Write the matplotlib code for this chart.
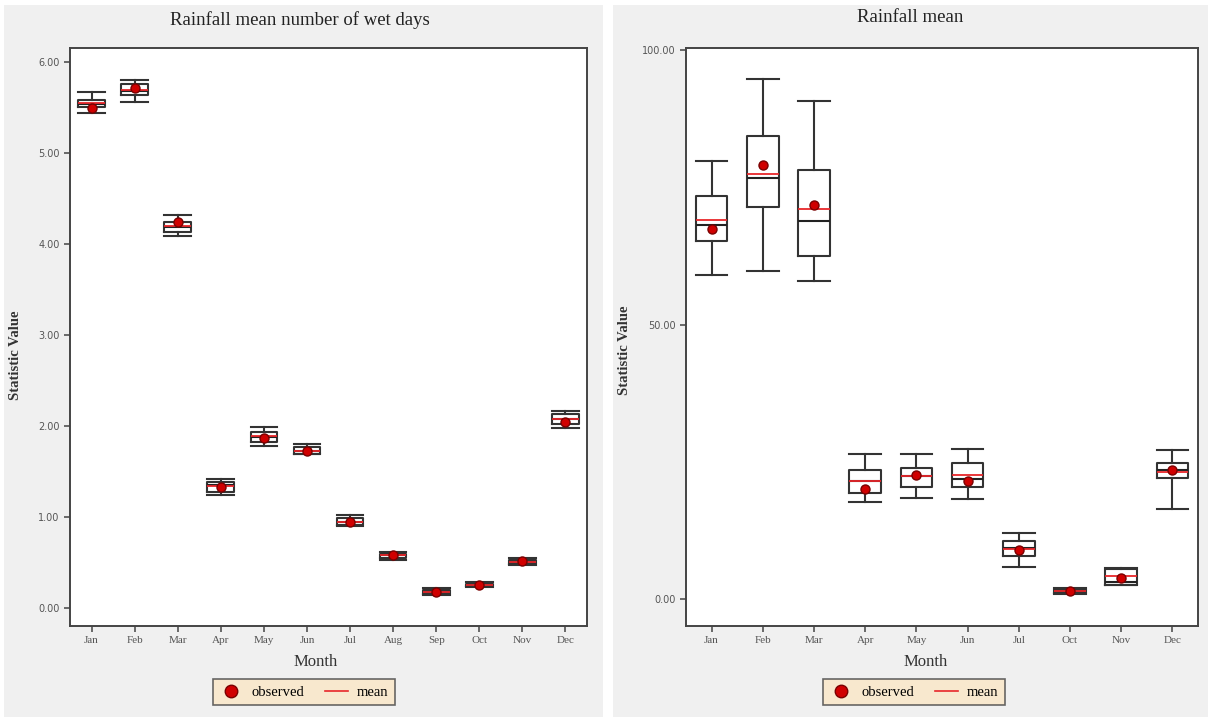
import matplotlib
matplotlib.use("Agg")
import matplotlib.pyplot as plt
from matplotlib.patches import Rectangle
from matplotlib.lines import Line2D

plt.rcParams['font.family'] = ['Liberation Serif', 'DejaVu Serif']

# panel 1: mean number of wet days
meses_l = ["Jan","Feb","Mar","Apr","May","Jun","Jul","Aug","Sep","Oct","Nov","Dec"]
whishi_l = [5.67, 5.80, 4.32, 1.42, 1.99, 1.80, 1.02, 0.62, 0.22, 0.29, 0.55, 2.17]
q3_l     = [5.59, 5.76, 4.25, 1.39, 1.94, 1.77, 0.99, 0.60, 0.20, 0.27, 0.53, 2.13]
med_l    = [5.54, 5.68, 4.19, 1.35, 1.88, 1.73, 0.95, 0.58, 0.18, 0.26, 0.51, 2.08]
q1_l     = [5.51, 5.64, 4.14, 1.28, 1.83, 1.70, 0.91, 0.55, 0.16, 0.24, 0.49, 2.03]
whislo_l = [5.44, 5.56, 4.09, 1.24, 1.78, 1.69, 0.90, 0.53, 0.15, 0.23, 0.48, 1.98]
media_l  = [5.55, 5.70, 4.20, 1.34, 1.89, 1.73, 0.95, 0.58, 0.18, 0.26, 0.51, 2.08]
obs_l    = [5.50, 5.72, 4.24, 1.33, 1.87, 1.73, 0.95, 0.58, 0.18, 0.26, 0.52, 2.05]

# panel 2: rainfall mean
meses_r = ["Jan","Feb","Mar","Apr","May","Jun","Jul","Oct","Nov","Dec"]
whishi_r = [79.9, 94.7, 90.8, 26.4, 26.4, 27.4, 12.1, 2.0, 5.6, 27.2]
q3_r     = [73.5, 84.4, 78.1, 23.5, 23.8, 24.8, 10.6, 1.8, 5.4, 24.8]
med_r    = [68.2, 76.8, 68.9, 21.5, 22.4, 21.8, 9.4, 1.5, 3.2, 23.6]
q1_r     = [65.3, 71.5, 62.5, 19.4, 20.4, 20.4, 7.8, 1.2, 2.6, 22.0]
whislo_r = [59.0, 59.8, 57.9, 17.7, 18.4, 18.2, 5.8, 1.0, 2.5, 16.5]
media_r  = [69.1, 77.4, 71.0, 21.6, 22.4, 22.6, 9.2, 1.5, 4.2, 23.1]
obs_r    = [67.5, 79.0, 71.8, 20.0, 22.7, 21.5, 9.0, 1.45, 3.8, 23.5]

W, H = 1208, 718
fig = plt.figure(figsize=(W/100, H/100), dpi=100, facecolor="white")

# gray panels behind each chart
for x0, x1 in [(4, 603), (613, 1208)]:
    fig.patches.append(Rectangle((x0/W, 1-717/H), (x1-x0)/W, (717-5)/H,
                                 transform=fig.transFigure, facecolor="#f0f0f0",
                                 edgecolor="none", zorder=-10))

def caja(ax, meses, whishi, q3, med, q1, whislo, media, obs, ylim, yticks):
    stats = []
    for i in range(len(meses)):
        stats.append(dict(med=med[i], q1=q1[i], q3=q3[i], whislo=whislo[i],
                          whishi=whishi[i], fliers=[], label=meses[i]))
    pos = list(range(len(meses)))
    w = 0.62
    ax.bxp(stats, positions=pos, widths=w, showfliers=False, capwidths=w,
           boxprops=dict(color="#333333", linewidth=1.5),
           whiskerprops=dict(color="#333333", linewidth=1.5),
           capprops=dict(color="#333333", linewidth=1.5),
           medianprops=dict(color="#222222", linewidth=1.5))
    ax.hlines(media, [p - w/2 for p in pos], [p + w/2 for p in pos],
              color="#e8262a", linewidth=1.3, zorder=3)
    ax.plot(pos, obs, "o", color="#d00000", markeredgecolor="#7a0000",
            markersize=6.5, zorder=4)
    ax.set_xlim(-0.5, len(meses) - 0.5)
    ax.set_ylim(*ylim)
    ax.set_yticks(yticks)
    ax.set_yticklabels([f"{t:.2f}" for t in yticks], family="DejaVu Sans", fontsize=7)
    ax.set_xticks(pos)
    ax.set_xticklabels(meses, fontsize=8)
    ax.tick_params(labelcolor="#555555", color="#444444", length=4, width=1.1)
    for s in ax.spines.values():
        s.set_color("#444444")
        s.set_linewidth(1.4)
    ax.set_facecolor("white")

ax1 = fig.add_axes([70/W, 1-626/H, (587-70)/W, (626-48)/H])
caja(ax1, meses_l, whishi_l, q3_l, med_l, q1_l, whislo_l, media_l, obs_l,
     (-0.195, 6.157), [0, 1, 2, 3, 4, 5, 6])

ax2 = fig.add_axes([686/W, 1-626/H, (1198-686)/W, (626-48)/H])
caja(ax2, meses_r, whishi_r, q3_r, med_r, q1_r, whislo_r, media_r, obs_r,
     (-4.9, 100.4), [0, 50, 100])

fig.text(300/W, 1-20/H, "Rainfall mean number of wet days", ha="center", va="center",
         fontsize=13.5, color="#222222")
fig.text(910/W, 1-18/H, "Rainfall mean", ha="center", va="center",
         fontsize=13.5, color="#222222")
fig.text(316/W, 1-662/H, "Month", ha="center", va="center", fontsize=12, color="#333333")
fig.text(926/W, 1-662/H, "Month", ha="center", va="center", fontsize=12, color="#333333")
fig.text(16/W, 1-355/H, "Statistic Value", rotation=90, ha="center", va="center",
         fontsize=10.5, fontweight="bold", color="#333333")
fig.text(625/W, 1-350/H, "Statistic Value", rotation=90, ha="center", va="center",
         fontsize=10.5, fontweight="bold", color="#333333")

manijas = [Line2D([], [], marker="o", linestyle="none", color="#d00000",
                  markeredgecolor="#7a0000", markersize=9),
           Line2D([], [], color="#e8262a", linewidth=1.2)]
for cx in [304, 914]:
    leg = fig.legend(manijas, ["observed", "mean"], loc="center",
                     bbox_to_anchor=(cx/W, 1-692/H), ncol=2, fontsize=10.5,
                     frameon=True, fancybox=False, handlelength=1.6,
                     columnspacing=1.4, handletextpad=0.6, borderpad=0.45)
    leg.get_frame().set_facecolor("#fbe7c6")
    leg.get_frame().set_edgecolor("#444444")
    leg.get_frame().set_linewidth(1.2)

fig.savefig("out.png", dpi=100, facecolor=fig.get_facecolor())
